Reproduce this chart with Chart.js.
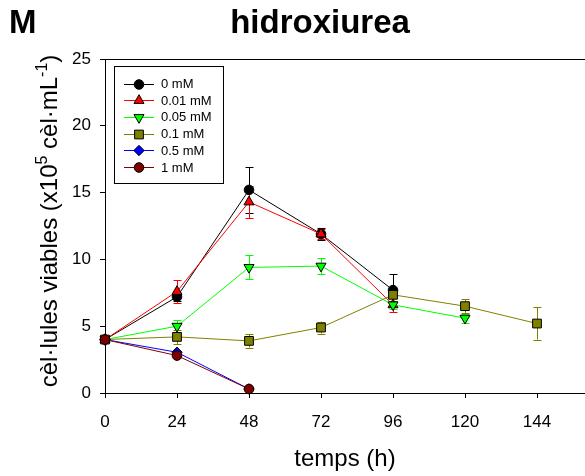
<!DOCTYPE html>
<html>
<head>
<meta charset="utf-8">
<style>
  html, body { margin: 0; padding: 0; background: #ffffff; }
  #wrap { width: 585px; height: 476px; position: relative; }
</style>
<script src="https://cdn.jsdelivr.net/npm/chart.js@4.4.1/dist/chart.umd.min.js"></script>
</head>
<body>
<div id="wrap"><canvas id="c" width="585" height="476"></canvas></div>
<script>
// Sampling times (h) and axis ticks
const hours = [0, 24, 48, 72, 96, 120, 144];
const xTicks = [0, 24, 48, 72, 96, 120, 144];
const yTicks = [0, 5, 10, 15, 20, 25];

// Hydroxyurea concentrations
const seriesNames = ['0 mM', '0.01 mM', '0.05 mM', '0.1 mM', '0.5 mM', '1 mM'];

// Viable cells (x10^5 cells/mL) and their error values, per concentration
const c0 = [4.0, 7.2, 15.2, 11.9, 7.7];
const c0Err = [0, 0.3, 1.7, 0.45, 1.2];
const c001 = [4.0, 7.6, 14.3, 11.9, 6.6];
const c001Err = [0, 0.85, 1.2, 0.4, 0.55];
const c005 = [4.0, 5.0, 9.4, 9.5, 6.6, 5.6];
const c005Err = [0, 0.45, 0.9, 0.6, 0.3, 0.35];
const c01 = [4.0, 4.2, 3.9, 4.9, 7.35, 6.5, 5.2];
const c01Err = [0, 0.55, 0.5, 0.45, 0.5, 0.5, 1.2];
const c05 = [4.0, 3.05, 0.3];
const c05Err = [0, 0.1, 0.05];
const c1 = [4.0, 2.8, 0.3];
const c1Err = [0, 0.1, 0.05];

const values = [c0, c001, c005, c01, c05, c1];
const errors = [c0Err, c001Err, c005Err, c01Err, c05Err, c1Err];

// Styling per series
const lineColors = ['#000000', '#ff0000', '#00ff00', '#808000', '#0000ff', '#800000'];
const fillColors = ['#000000', '#ff0000', '#00ff00', '#808000', '#0000ff', '#800000'];
const markerStyles = ['circle', 'triangle', 'triangle', 'rect', 'rectRot', 'circle'];
const markerRot = [0, 0, 180, 0, 0, 0];
const markerRadius = [4.8, 5.8, 5.8, 6.2, 5.2, 4.8];

const FONT = '"Liberation Sans", Arial, sans-serif';

const datasets = values.map((vals, i) => ({
  label: seriesNames[i],
  data: vals.map((v, k) => ({ x: hours[k], y: v })),
  errors: errors[i],
  borderColor: lineColors[i],
  borderWidth: 1,
  backgroundColor: fillColors[i],
  pointBackgroundColor: fillColors[i],
  pointBorderColor: '#000000',
  pointBorderWidth: 1,
  pointStyle: markerStyles[i],
  pointRotation: markerRot[i],
  pointRadius: markerRadius[i],
  pointHoverRadius: markerRadius[i],
  tension: 0,
  fill: false,
  clip: false,
  order: values.length - i
}));

// Vertical error bars with small caps, drawn beneath the markers
const errorBarPlugin = {
  id: 'errorBars',
  beforeDatasetsDraw(chart) {
    const ctx = chart.ctx;
    const yScale = chart.scales.y;
    chart.data.datasets.forEach((ds, di) => {
      const meta = chart.getDatasetMeta(di);
      ctx.save();
      ctx.strokeStyle = ds.borderColor;
      ctx.lineWidth = 1;
      meta.data.forEach((pt, k) => {
        const e = ds.errors[k];
        if (!e) return;
        const v = ds.data[k].y;
        const yt = yScale.getPixelForValue(v + e);
        const yb = yScale.getPixelForValue(v - e);
        const x = Math.round(pt.x) + 0.5;
        ctx.beginPath();
        ctx.moveTo(x, yt); ctx.lineTo(x, yb);
        ctx.moveTo(x - 4, Math.round(yt) + 0.5); ctx.lineTo(x + 4, Math.round(yt) + 0.5);
        ctx.moveTo(x - 4, Math.round(yb) + 0.5); ctx.lineTo(x + 4, Math.round(yb) + 0.5);
        ctx.stroke();
      });
      ctx.restore();
    });
  }
};

// Panel letter, title, frame top, axis titles and the boxed legend
const decorPlugin = {
  id: 'decor',
  afterDraw(chart) {
    const ctx = chart.ctx;
    const area = chart.chartArea;
    ctx.save();

    // top frame line
    ctx.strokeStyle = '#000';
    ctx.lineWidth = 1;
    ctx.beginPath();
    ctx.moveTo(area.left, Math.round(area.top) + 0.5);
    ctx.lineTo(area.right, Math.round(area.top) + 0.5);
    ctx.stroke();

    // panel letter and title
    ctx.fillStyle = '#000';
    ctx.textBaseline = 'alphabetic';
    ctx.font = 'bold 33px ' + FONT;
    ctx.textAlign = 'left';
    ctx.fillText('M', 9, 33);
    ctx.textAlign = 'center';
    ctx.fillText('hidroxiurea', 320, 33);

    // x axis title
    ctx.font = '24px ' + FONT;
    ctx.fillText('temps (h)', (area.left + area.right) / 2, 466);

    // y axis title with superscripts
    const parts = [
      { t: 'cèl·lules viables (x10', sup: false },
      { t: '5', sup: true },
      { t: ' cèl·mL', sup: false },
      { t: '-1', sup: true },
      { t: ')', sup: false }
    ];
    const mainFont = '24px ' + FONT;
    const supFont = '16px ' + FONT;
    let total = 0;
    parts.forEach(p => { ctx.font = p.sup ? supFont : mainFont; p.w = ctx.measureText(p.t).width; total += p.w; });
    ctx.translate(57, 221);
    ctx.rotate(-Math.PI / 2);
    ctx.textAlign = 'left';
    let px = -total / 2;
    parts.forEach(p => {
      ctx.font = p.sup ? supFont : mainFont;
      ctx.fillText(p.t, px, p.sup ? -10 : 0);
      px += p.w;
    });
    ctx.setTransform(1, 0, 0, 1, 0, 0);

    // legend box
    const bx = 114.5, by = 66.5, bw = 109, bh = 117;
    ctx.strokeStyle = '#000';
    ctx.lineWidth = 1;
    ctx.strokeRect(bx, by, bw, bh);
    ctx.font = '13px ' + FONT;
    ctx.textAlign = 'left';
    ctx.textBaseline = 'middle';
    seriesNames.forEach((name, i) => {
      const yy = 83.5 + i * 16.7;
      ctx.strokeStyle = lineColors[i];
      ctx.beginPath();
      ctx.moveTo(124, Math.round(yy) + 0.5);
      ctx.lineTo(154, Math.round(yy) + 0.5);
      ctx.stroke();
      ctx.fillStyle = fillColors[i];
      ctx.strokeStyle = '#000';
      Chart.helpers.drawPoint(ctx, {
        pointStyle: markerStyles[i],
        rotation: markerRot[i],
        radius: markerRadius[i],
        borderWidth: 1
      }, 139, Math.round(yy) + 0.5);
      ctx.fillStyle = '#000';
      ctx.fillText(name, 161, yy + 1);
    });
    ctx.restore();
  }
};

new Chart(document.getElementById('c'), {
  type: 'line',
  data: { datasets },
  options: {
    responsive: false,
    devicePixelRatio: 1,
    animation: false,
    events: [],
    layout: { autoPadding: false, padding: { top: 59, right: 0, bottom: 0, left: 0 } },
    plugins: {
      legend: { display: false },
      title: { display: false },
      tooltip: { enabled: false }
    },
    scales: {
      x: {
        type: 'linear',
        min: 0,
        max: 160,
        afterFit(scale) { scale.height = 83; scale.paddingRight = 0; scale.paddingLeft = 0; },
        afterBuildTicks(scale) { scale.ticks = xTicks.map(v => ({ value: v })); },
        grid: { drawOnChartArea: false, tickLength: 5, tickColor: '#000', lineWidth: 1 },
        border: { color: '#000', width: 1 },
        ticks: { color: '#000', padding: 14, maxRotation: 0, autoSkip: false, font: { family: FONT, size: 17 } }
      },
      y: {
        type: 'linear',
        min: 0,
        max: 25,
        afterFit(scale) { scale.width = 105; scale.paddingTop = 0; scale.paddingBottom = 0; },
        afterBuildTicks(scale) { scale.ticks = yTicks.map(v => ({ value: v })); },
        grid: { drawOnChartArea: false, tickLength: 5, tickColor: '#000', lineWidth: 1 },
        border: { color: '#000', width: 1 },
        ticks: { color: '#000', padding: 9, font: { family: FONT, size: 17 } }
      }
    }
  },
  plugins: [errorBarPlugin, decorPlugin]
});
</script>
</body>
</html>
